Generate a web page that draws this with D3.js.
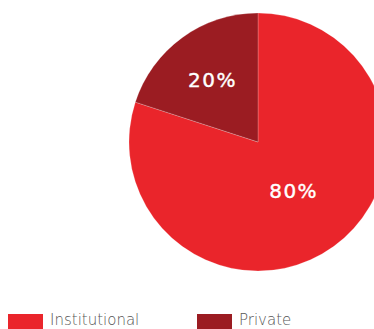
<!DOCTYPE html>
<html>
<head>
<meta charset="utf-8">
<script src="https://cdn.jsdelivr.net/npm/d3@7"></script>
<style>
	body { margin: 0; background: #fff; }
	svg { display: block; }
</style>
</head>
<body>
<svg id="chart" width="374" height="329"></svg>
<script>
var categories = ['Institutional', 'Private'];
var values = [80, 20];
var labels = ['80%', '20%'];
var colors = ['#ea252b', '#9b1c22'];

var svg = d3.select('#chart');
var cx = 258, cy = 142, radius = 129;

var pie = d3.pie().sort(null).value(function(d) { return d.value; });
var arc = d3.arc().innerRadius(0).outerRadius(radius);

var data = categories.map(function(c, i) { return { name: c, value: values[i], label: labels[i], color: colors[i] }; });
var arcs = pie(data);

var g = svg.append('g').attr('transform', 'translate(' + cx + ',' + cy + ')');

g.selectAll('path').data(arcs).enter().append('path')
	.attr('d', arc)
	.attr('fill', function(d) { return d.data.color; })
	.attr('stroke', '#fff')
	.attr('stroke-opacity', 0.35)
	.attr('stroke-width', 0.6);

// label distance as fraction of radius, per slice
var labelPos = [0.47, 0.6];
g.selectAll('text').data(arcs).enter().append('text')
	.attr('transform', function(d, i) {
		var a = (d.startAngle + d.endAngle) / 2;
		var r = radius * labelPos[i];
		return 'translate(' + (Math.sin(a) * r) + ',' + (-Math.cos(a) * r) + ')';
	})
	.attr('text-anchor', 'middle')
	.attr('dy', '0.36em')
	.attr('fill', '#fff')
	.attr('stroke', '#fff')
	.attr('stroke-width', 0.4)
	.style('font-family', '"DejaVu Sans", sans-serif')
	.style('font-size', '20px')
	.style('letter-spacing', '1.5px')
	.text(function(d) { return d.data.label; });

var legendX = [8, 197];
var legend = svg.selectAll('.legend').data(data).enter().append('g')
	.attr('class', 'legend')
	.attr('transform', function(d, i) { return 'translate(' + legendX[i] + ',314)'; });

legend.append('rect')
	.attr('width', 35)
	.attr('height', 15)
	.attr('fill', function(d) { return d.color; });

legend.append('text')
	.attr('x', 42)
	.attr('y', 11)
	.attr('fill', '#555')
	.style('font-family', '"DejaVu Sans", sans-serif')
	.style('font-weight', 300)
	.style('font-size', '15px')
	.text(function(d) { return d.name; });
</script>
</body>
</html>
